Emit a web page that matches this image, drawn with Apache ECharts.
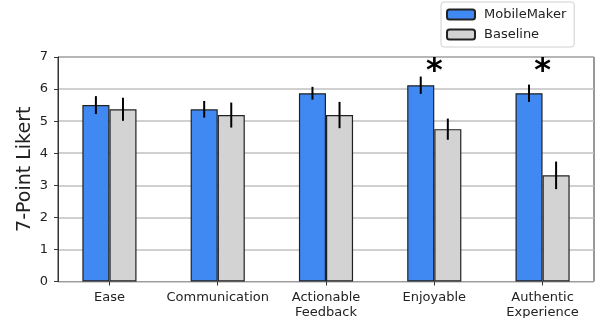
<!DOCTYPE html>
<html><head><meta charset="utf-8">
<script src="https://cdn.jsdelivr.net/npm/echarts@6/dist/echarts.min.js"></script>
<style>html,body{margin:0;padding:0;background:#fff}#c{width:595px;height:318px}</style>
</head><body><div id="c"></div>
<script>
const categories = ['Ease', 'Communication', 'Actionable\nFeedback', 'Enjoyable', 'Authentic\nExperience'];
const mobileMaker = [5.5, 5.37, 5.87, 6.12, 5.87];
const mobileMakerErr = [0.28, 0.26, 0.2, 0.27, 0.27];
const baseline = [5.37, 5.19, 5.19, 4.75, 3.31];
const baselineErr = [0.36, 0.39, 0.41, 0.33, 0.43];
const significance = ['', '', '', '*', '*'];
const yTicks = [0, 1, 2, 3, 4, 5, 6, 7];

const FONT = 'DejaVu Sans';
const chart = echarts.init(document.getElementById('c'), null, {renderer: 'canvas'});

// frame grid (axes box) and data grid (matplotlib-like x margins)
const PL = 58, PR = 594, PT = 57, PB = 281.5;
const unit = (PR - PL) / 4.95;
const dataLeft = PL - 0.025 * unit;
const dataWidth = 5 * unit;

function errSeries(vals, errs, offsetFrac, name) {
  return {
    type: 'custom', name: name, z: 10, silent: true, xAxisIndex: 1, yAxisIndex: 1,
    data: vals.map((v, i) => [i, v, errs[i]]),
    renderItem: function (params, api) {
      const i = api.value(0), v = api.value(1), e = api.value(2);
      const band = api.size([1, 0])[0];
      const x = api.coord([i, v])[0] + offsetFrac * band;
      const top = api.coord([i, v + e])[1];
      const bot = api.coord([i, v - e])[1];
      return {type: 'line', shape: {x1: x, y1: top, x2: x, y2: bot}, style: {stroke: '#000', lineWidth: 2}};
    }
  };
}

const option = {
  animation: false,
  grid: [
    {left: PL, width: PR - PL, top: PT, height: PB - PT, show: true, borderColor: '#333', borderWidth: 1,
     backgroundColor: 'transparent', outerBoundsMode: 'none', containLabel: false},
    {left: dataLeft, width: dataWidth, top: PT, height: PB - PT, show: false, outerBoundsMode: 'none', containLabel: false}
  ],
  legend: {
    orient: 'vertical', left: 441, top: 2, itemWidth: 28, itemHeight: 10, itemGap: 7,
    padding: [6, 8, 6, 5], backgroundColor: '#fff', borderColor: '#d0d0d0', borderWidth: 1, borderRadius: 3,
    textStyle: {fontFamily: FONT, fontSize: 13, color: '#222', padding: [0, 0, 0, 4]},
    data: ['MobileMaker', 'Baseline']
  },
  xAxis: [
    {type: 'value', gridIndex: 0, min: 0, max: 1, show: true,
     axisLine: {show: false}, axisTick: {show: false}, axisLabel: {show: false}, splitLine: {show: false}},
    {type: 'category', gridIndex: 1, data: categories,
     axisLine: {show: false},
     axisTick: {show: true, alignWithLabel: true, length: 4, lineStyle: {color: '#333'}},
     axisLabel: {fontFamily: FONT, fontSize: 13, color: '#222', margin: 9, lineHeight: 15, interval: 0}}
  ],
  yAxis: [
    {type: 'value', gridIndex: 0, min: yTicks[0], max: yTicks[yTicks.length - 1], interval: 1,
     name: '7-Point Likert', nameLocation: 'middle', nameGap: 23, nameMoveOverlap: false,
     nameTextStyle: {fontFamily: FONT, fontSize: 19, color: '#222'},
     axisLine: {show: true, lineStyle: {color: '#333', width: 1}},
     axisTick: {show: true, length: 4, lineStyle: {color: '#333'}},
     axisLabel: {fontFamily: FONT, fontSize: 13, color: '#222', margin: 10},
     splitLine: {show: true, lineStyle: {color: '#c0c0c0', width: 1.5}}},
    {type: 'value', gridIndex: 1, min: yTicks[0], max: yTicks[yTicks.length - 1], show: false,
     splitLine: {show: false}}
  ],
  series: [
    {name: 'MobileMaker', type: 'bar', xAxisIndex: 1, yAxisIndex: 1, data: mobileMaker, barWidth: '25%', barGap: '0%',
     itemStyle: {color: '#4189f2', borderColor: '#222', borderWidth: 1.2}},
    {name: 'Baseline', type: 'bar', xAxisIndex: 1, yAxisIndex: 1, data: baseline, barWidth: '25%', barGap: '0%',
     itemStyle: {color: '#d3d3d3', borderColor: '#222', borderWidth: 1.2}},
    errSeries(mobileMaker, mobileMakerErr, -0.125, 'errMM'),
    errSeries(baseline, baselineErr, 0.125, 'errBL'),
    {
      type: 'custom', name: 'sig', z: 11, silent: true, xAxisIndex: 1, yAxisIndex: 1,
      data: significance.map((s, i) => [i, yTicks[yTicks.length - 1]]),
      renderItem: function (params, api) {
        const s = significance[params.dataIndex];
        if (!s) return null;
        const p = api.coord([api.value(0), api.value(1)]);
        return {type: 'text', style: {text: s, x: p[0], y: p[1] + 14.5, align: 'center', verticalAlign: 'middle',
          fontFamily: FONT, fontSize: 32, fontWeight: 'bold', fill: '#000'}};
      }
    }
  ]
};
chart.setOption(option);
</script></body></html>
